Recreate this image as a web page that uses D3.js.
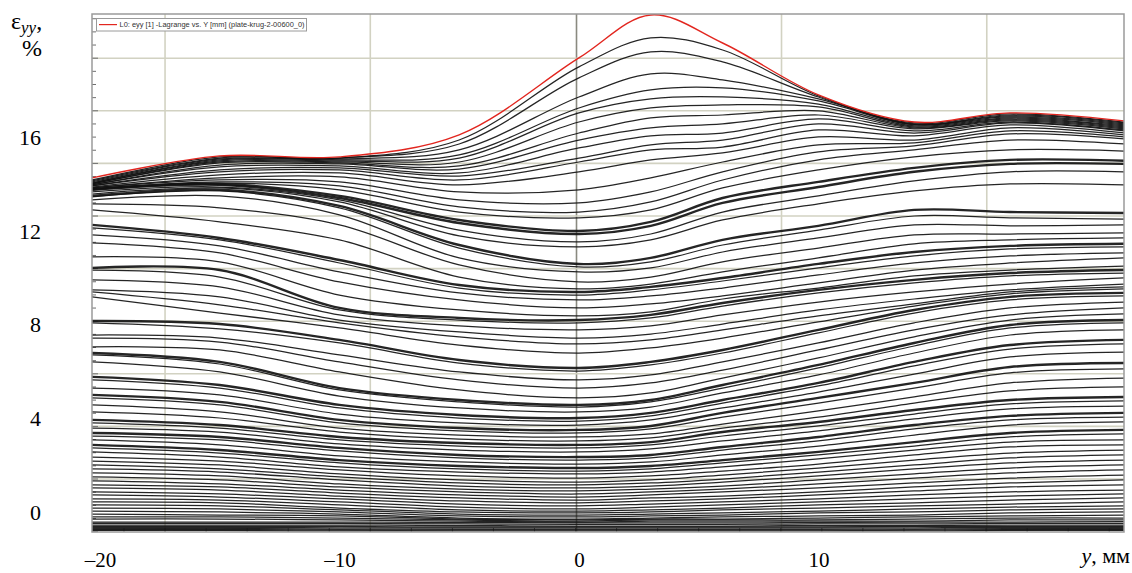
<!DOCTYPE html>
<html>
<head>
<meta charset="utf-8">
<script src="https://cdn.jsdelivr.net/npm/d3@7"></script>
<style>
  html, body { margin: 0; padding: 0; background: #ffffff; }
  svg { display: block; }
</style>
</head>
<body>
<svg id="chart" width="1132" height="573"></svg>
<script>
// Stations along the specimen axis Y, mm
const yStations = [-20.33, -15, -10, -5, 0, 3, 6, 10, 14, 18, 22.76];

// Strain eyy (%) of every recorded frame at each station.
// Index 0 is the final frame (L0), later indices are earlier frames.
const eyyAtM20 = [14.29, 14.20, 14.16, 14.12, 14.07, 14.07, 14.03, 14.03, 13.99, 13.99, 13.95, 13.95, 13.90,
  13.86, 13.86, 13.82, 13.82, 13.80, 13.78, 13.69, 13.60, 13.52, 13.48, 13.35, 13.18,
  12.92, 12.28, 12.15, 11.85, 11.51, 10.91, 10.44, 10.35, 9.93, 9.50, 9.41, 9.20,
  8.17, 8.09, 7.57, 7.44, 7.06, 6.80, 6.72, 6.42, 5.78, 5.65, 5.30, 5.01,
  4.88, 4.58, 4.28, 3.94, 3.81, 3.59, 3.38, 3.25, 3.08, 2.87, 2.74, 2.57,
  2.35, 2.18, 2.01, 1.84, 1.67, 1.50, 1.33, 1.16, 1.03, 0.86, 0.73, 0.56,
  0.43, 0.30, 0.17, 0.04, -0.09, -0.21, -0.30, -0.43, -0.49, -0.56, -0.62, -0.66, -0.71, -0.75, -0.79];
const eyyAtM15 = [15.23, 15.19, 15.14, 15.10, 15.06, 15.02, 14.97, 14.93, 14.84, 14.76, 14.63, 14.55, 14.42,
  14.29, 14.20, 14.12, 14.07, 14.03, 13.99, 13.90, 13.86, 13.78, 13.73, 13.52, 13.01,
  12.41, 11.72, 11.64, 11.38, 11.08, 10.70, 10.35, 10.05, 9.63, 9.20, 8.86, 8.51,
  8.04, 7.83, 7.44, 7.27, 6.93, 6.42, 6.33, 5.99, 5.43, 5.30, 5.01, 4.71,
  4.58, 4.28, 4.02, 3.72, 3.59, 3.42, 3.21, 3.08, 2.87, 2.65, 2.52, 2.35,
  2.18, 2.01, 1.84, 1.71, 1.54, 1.37, 1.20, 1.07, 0.94, 0.77, 0.64, 0.51,
  0.39, 0.26, 0.13, 0.00, -0.13, -0.21, -0.30, -0.43, -0.49, -0.56, -0.62, -0.66, -0.71, -0.75, -0.79];
const eyyAtM10 = [15.19, 15.14, 15.14, 15.10, 15.06, 15.02, 14.97, 14.93, 14.89, 14.80, 14.72, 14.63, 14.50,
  14.33, 14.12, 13.95, 13.78, 13.52, 13.43, 13.35, 13.26, 13.09, 13.01, 12.71, 12.28,
  11.64, 10.78, 10.65, 10.27, 9.84, 9.28, 8.73, 8.64, 8.43, 8.21, 8.09, 7.87,
  7.36, 7.23, 6.72, 6.42, 5.99, 5.30, 5.22, 4.96, 4.58, 4.45, 4.19, 3.94,
  3.81, 3.59, 3.42, 3.21, 3.08, 2.91, 2.74, 2.61, 2.40, 2.22, 2.10, 1.93,
  1.80, 1.63, 1.50, 1.37, 1.20, 1.07, 0.94, 0.81, 0.68, 0.56, 0.43, 0.30,
  0.17, 0.09, 0.00, -0.09, -0.17, -0.26, -0.34, -0.43, -0.49, -0.56, -0.62, -0.68, -0.73, -0.77, -0.81];
const eyyAtM5 = [16.13, 15.91, 15.74, 15.49, 15.27, 15.14, 14.97, 14.80, 14.67, 14.50, 14.37, 14.20, 13.99,
  13.69, 13.35, 13.05, 12.83, 12.49, 12.36, 12.06, 11.81, 11.42, 11.29, 10.87, 10.57,
  10.05, 9.71, 9.58, 9.37, 9.07, 8.64, 8.30, 8.21, 7.96, 7.70, 7.49, 7.14,
  6.50, 6.37, 5.99, 5.65, 5.22, 4.79, 4.71, 4.45, 4.15, 4.02, 3.81, 3.59,
  3.47, 3.29, 3.12, 2.95, 2.82, 2.65, 2.44, 2.31, 2.14, 1.97, 1.84, 1.71,
  1.54, 1.37, 1.24, 1.11, 0.98, 0.86, 0.73, 0.60, 0.47, 0.34, 0.21, 0.09,
  0.00, -0.09, -0.17, -0.26, -0.30, -0.34, -0.39, -0.45, -0.51, -0.58, -0.64, -0.68, -0.73, -0.77, -0.81];
const eyyAt0 = [19.42, 19.04, 18.57, 17.75, 17.28, 17.07, 16.68, 16.21, 15.91, 15.57, 15.14, 14.97, 14.55,
  13.78, 13.22, 12.83, 12.58, 12.02, 11.89, 11.55, 11.34, 10.61, 10.48, 10.27, 9.84,
  9.54, 9.41, 9.28, 9.07, 8.73, 8.39, 8.21, 8.09, 7.79, 7.44, 7.19, 6.80,
  6.16, 6.03, 5.65, 5.30, 4.88, 4.58, 4.49, 4.28, 4.02, 3.89, 3.72, 3.51,
  3.38, 3.21, 3.04, 2.87, 2.74, 2.57, 2.35, 2.22, 2.05, 1.88, 1.75, 1.63,
  1.45, 1.28, 1.16, 1.03, 0.90, 0.77, 0.64, 0.51, 0.39, 0.26, 0.13, 0.04,
  -0.04, -0.13, -0.21, -0.30, -0.34, -0.39, -0.43, -0.47, -0.53, -0.60, -0.64, -0.68, -0.73, -0.77, -0.81];
const eyyAt3 = [21.26, 20.28, 19.68, 18.74, 18.05, 17.67, 17.28, 16.86, 16.43, 16.09, 15.70, 15.49, 15.06,
  14.29, 13.69, 13.26, 12.92, 12.41, 12.24, 11.89, 11.64, 10.87, 10.70, 10.44, 10.05,
  9.75, 9.63, 9.50, 9.24, 8.90, 8.56, 8.43, 8.30, 7.96, 7.61, 7.36, 7.02,
  6.42, 6.29, 5.86, 5.52, 5.09, 4.79, 4.71, 4.49, 4.24, 4.11, 3.94, 3.68,
  3.55, 3.34, 3.17, 2.99, 2.87, 2.70, 2.44, 2.31, 2.14, 1.97, 1.84, 1.71,
  1.54, 1.37, 1.24, 1.11, 0.98, 0.86, 0.73, 0.60, 0.47, 0.34, 0.21, 0.09,
  0.00, -0.09, -0.17, -0.26, -0.30, -0.34, -0.39, -0.47, -0.53, -0.60, -0.64, -0.68, -0.73, -0.77, -0.81];
const eyyAt6 = [20.06, 19.76, 19.25, 18.48, 18.14, 17.75, 17.41, 16.98, 16.60, 16.21, 15.91, 15.61, 15.36,
  14.97, 14.55, 14.20, 13.86, 13.43, 13.22, 12.83, 12.49, 11.64, 11.42, 11.12, 10.70,
  10.27, 10.01, 9.88, 9.58, 9.24, 9.11, 8.94, 8.81, 8.43, 8.04, 7.79, 7.44,
  6.93, 6.80, 6.42, 6.07, 5.73, 5.43, 5.30, 5.09, 4.79, 4.66, 4.45, 4.24,
  4.06, 3.76, 3.59, 3.42, 3.25, 3.04, 2.78, 2.65, 2.44, 2.22, 2.10, 1.93,
  1.75, 1.58, 1.41, 1.28, 1.11, 0.98, 0.86, 0.68, 0.56, 0.43, 0.30, 0.17,
  0.09, -0.04, -0.13, -0.21, -0.30, -0.34, -0.39, -0.47, -0.53, -0.60, -0.64, -0.68, -0.73, -0.77, -0.81];
const eyyAt10 = [17.84, 17.80, 17.75, 17.67, 17.58, 17.45, 17.33, 17.16, 16.98, 16.81, 16.60, 16.34, 16.04,
  15.70, 15.40, 15.06, 14.63, 14.12, 13.90, 13.52, 13.18, 12.24, 12.06, 11.72, 11.29,
  10.87, 10.61, 10.44, 10.14, 9.80, 9.58, 9.50, 9.37, 8.98, 8.64, 8.39, 8.13,
  7.79, 7.66, 7.23, 6.93, 6.59, 6.29, 6.16, 5.86, 5.52, 5.39, 5.13, 4.88,
  4.66, 4.32, 4.06, 3.85, 3.68, 3.47, 3.21, 3.04, 2.82, 2.57, 2.44, 2.27,
  2.05, 1.88, 1.71, 1.54, 1.37, 1.20, 1.03, 0.86, 0.73, 0.56, 0.43, 0.30,
  0.17, 0.04, -0.04, -0.17, -0.26, -0.34, -0.39, -0.45, -0.51, -0.58, -0.64, -0.68, -0.73, -0.77, -0.81];
const eyyAt14 = [16.68, 16.64, 16.60, 16.58, 16.56, 16.51, 16.47, 16.43, 16.39, 16.30, 16.21, 16.09, 15.91,
  15.79, 15.66, 15.49, 15.19, 14.72, 14.55, 14.16, 13.73, 12.92, 12.66, 12.28, 11.85,
  11.47, 11.12, 10.95, 10.65, 10.35, 10.10, 9.93, 9.80, 9.41, 9.11, 8.90, 8.81,
  8.64, 8.51, 8.09, 7.79, 7.49, 7.23, 7.10, 6.80, 6.42, 6.25, 5.90, 5.52,
  5.30, 4.92, 4.66, 4.36, 4.19, 3.98, 3.72, 3.55, 3.29, 2.99, 2.82, 2.65,
  2.44, 2.22, 2.01, 1.84, 1.63, 1.45, 1.24, 1.07, 0.90, 0.73, 0.56, 0.39,
  0.26, 0.13, 0.00, -0.13, -0.21, -0.30, -0.39, -0.43, -0.51, -0.58, -0.62, -0.68, -0.73, -0.77, -0.81];
const eyyAt18 = [17.07, 17.03, 16.98, 16.94, 16.90, 16.86, 16.81, 16.77, 16.73, 16.68, 16.64, 16.56, 16.43,
  16.30, 16.17, 15.91, 15.49, 15.06, 14.89, 14.55, 14.03, 12.83, 12.58, 12.24, 11.89,
  11.64, 11.38, 11.25, 10.95, 10.65, 10.35, 10.22, 10.10, 9.75, 9.50, 9.41, 9.33,
  9.20, 9.07, 8.73, 8.43, 8.21, 8.00, 7.87, 7.57, 7.14, 6.97, 6.63, 6.20,
  5.95, 5.52, 5.18, 4.79, 4.62, 4.41, 4.11, 3.94, 3.72, 3.38, 3.21, 2.99,
  2.78, 2.52, 2.31, 2.10, 1.88, 1.67, 1.45, 1.24, 1.07, 0.86, 0.68, 0.51,
  0.34, 0.21, 0.09, -0.04, -0.17, -0.26, -0.34, -0.43, -0.49, -0.56, -0.62, -0.66, -0.71, -0.75, -0.79];
const eyyAt22 = [16.73, 16.68, 16.64, 16.60, 16.56, 16.51, 16.47, 16.43, 16.39, 16.34, 16.30, 16.21, 16.13,
  16.04, 15.96, 15.74, 15.44, 15.02, 14.89, 14.55, 13.99, 12.79, 12.53, 12.28, 11.94,
  11.72, 11.47, 11.34, 11.08, 10.87, 10.52, 10.35, 10.22, 10.01, 9.75, 9.63, 9.54,
  9.37, 9.24, 8.98, 8.73, 8.47, 8.21, 8.09, 7.79, 7.36, 7.19, 6.84, 6.37,
  6.12, 5.73, 5.35, 4.92, 4.75, 4.53, 4.24, 4.06, 3.85, 3.51, 3.34, 3.08,
  2.87, 2.65, 2.44, 2.22, 2.01, 1.80, 1.58, 1.37, 1.16, 0.94, 0.77, 0.60,
  0.43, 0.26, 0.13, 0.00, -0.13, -0.26, -0.34, -0.41, -0.49, -0.56, -0.62, -0.66, -0.71, -0.75, -0.79];

// Frames drawn with a heavier stroke (bunched frame groups)
const heavyFrames = [17, 18, 21, 26, 31, 37, 42, 45, 48, 52, 55, 58];

// Axis ticks and the software grid
const xTicks = [-20, -10, 0, 10];
const yTicks = [0, 4, 8, 12, 16];
const xGrid = [-17.28, -8.71, -0.10, 8.46, 17.03];
const yGrid = [1.41, 3.66, 5.91, 8.16, 10.41, 12.66, 14.91, 17.16, 19.41];

const legendText = "L0: eyy [1] -Lagrange vs. Y [mm] (plate-krug-2-00600_0)";

// ---------------------------------------------------------------
const svg = d3.select("#chart");
const plot = { left: 92, right: 1124, top: 14, bottom: 532 };

const x = d3.scaleLinear().domain([-20.33, 22.76]).range([plot.left, plot.right]);
const y = d3.scaleLinear().domain([-0.856, 21.30]).range([plot.bottom, plot.top]);

const stationValues = [eyyAtM20, eyyAtM15, eyyAtM10, eyyAtM5, eyyAt0, eyyAt3, eyyAt6,
                       eyyAt10, eyyAt14, eyyAt18, eyyAt22];
const nFrames = d3.min(stationValues, a => a.length);
const frames = d3.range(nFrames).map(f => ({
  index: f,
  points: yStations.map((s, i) => [s, stationValues[i][f]])
}));

svg.append("defs").append("clipPath").attr("id", "plotClip")
  .append("rect")
  .attr("x", plot.left).attr("y", plot.top)
  .attr("width", plot.right - plot.left).attr("height", plot.bottom - plot.top);

// plot background
svg.append("rect")
  .attr("x", plot.left).attr("y", plot.top)
  .attr("width", plot.right - plot.left).attr("height", plot.bottom - plot.top)
  .attr("fill", "#ffffff");

// grid
const grid = svg.append("g").attr("clip-path", "url(#plotClip)");
grid.selectAll("line.gx").data(xGrid).join("line")
  .attr("x1", d => x(d)).attr("x2", d => x(d))
  .attr("y1", plot.top).attr("y2", plot.bottom)
  .attr("stroke", (d, i) => i === 2 ? "#8a8a80" : "#d2d2c2")
  .attr("stroke-width", 1.6);
grid.selectAll("line.gy").data(yGrid).join("line")
  .attr("x1", plot.left).attr("x2", plot.right)
  .attr("y1", d => y(d)).attr("y2", d => y(d))
  .attr("stroke", "#d2d2c2")
  .attr("stroke-width", 1.6);

// small tick marks on the inner left and bottom edges
const yStep = (yGrid[1] - yGrid[0]) / 4;
const leftTicks = d3.range(yGrid[0] - 4 * yStep, y.domain()[1], yStep)
  .filter(v => v > y.domain()[0] && v < y.domain()[1]);
svg.append("g").selectAll("line").data(leftTicks).join("line")
  .attr("x1", plot.left).attr("x2", d => plot.left + (Math.round((d - yGrid[0]) / yStep) % 4 === 0 ? 6 : 4))
  .attr("y1", d => y(d)).attr("y2", d => y(d))
  .attr("stroke", "#6f6f6f").attr("stroke-width", 1);
const xStep = (xGrid[1] - xGrid[0]) / 5;
const bottomTicks = d3.range(xGrid[0] - 5 * xStep, x.domain()[1], xStep)
  .filter(v => v > x.domain()[0] && v < x.domain()[1]);
svg.append("g").selectAll("line").data(bottomTicks).join("line")
  .attr("x1", d => x(d)).attr("x2", d => x(d))
  .attr("y1", plot.bottom).attr("y2", plot.bottom - 4)
  .attr("stroke", "#6f6f6f").attr("stroke-width", 1);

// frames
const line = d3.line()
  .x(d => x(d[0]))
  .y(d => y(d[1]))
  .curve(d3.curveCatmullRom.alpha(0.5));

const curves = svg.append("g").attr("clip-path", "url(#plotClip)");
curves.selectAll("path.frame")
  .data(frames.filter(f => f.index > 0).reverse())
  .join("path")
  .attr("class", "frame")
  .attr("d", d => line(d.points))
  .attr("fill", "none")
  .attr("stroke", "#121212")
  .attr("stroke-opacity", 0.92)
  .attr("stroke-width", d => heavyFrames.includes(d.index) ? 2.4 : 1.25);

curves.append("path")
  .attr("d", line(frames[0].points))
  .attr("fill", "none")
  .attr("stroke", "#e2261f")
  .attr("stroke-width", 1.4);

// plot frame
svg.append("rect")
  .attr("x", plot.left).attr("y", plot.top)
  .attr("width", plot.right - plot.left).attr("height", plot.bottom - plot.top)
  .attr("fill", "none").attr("stroke", "#9a9a9a").attr("stroke-width", 1.5);

// legend
const lg = svg.append("g");
lg.append("rect").attr("x", 96.5).attr("y", 18.5).attr("width", 210).attr("height", 12.5)
  .attr("fill", "#ffffff").attr("stroke", "#9a9a9a").attr("stroke-width", 1);
lg.append("line").attr("x1", 99).attr("x2", 117).attr("y1", 24.6).attr("y2", 24.6)
  .attr("stroke", "#e2261f").attr("stroke-width", 1.2);
lg.append("text").attr("x", 119.5).attr("y", 27.4)
  .attr("font-family", "'Liberation Sans', Arial, sans-serif")
  .attr("font-size", 6.8).attr("fill", "#333")
  .attr("textLength", 185).attr("lengthAdjust", "spacingAndGlyphs")
  .text(legendText);

// axis labels (serif, outside the plot)
const serif = "'Liberation Serif', 'Times New Roman', serif";
const xAxis = d3.axisBottom(x).tickValues(xTicks).tickSize(0).tickPadding(0)
  .tickFormat(d => (d < 0 ? "\u2013" + Math.abs(d) : String(d)));
const gx = svg.append("g").attr("transform", "translate(0,567)").call(xAxis);
gx.select(".domain").remove();
gx.selectAll("text").attr("font-family", serif).attr("font-size", 21).attr("fill", "#000")
  .attr("dy", 0).attr("y", 0);

const yAxis = d3.axisLeft(y).tickValues(yTicks).tickSize(0).tickPadding(0)
  .tickFormat(d => String(d));
const gy = svg.append("g").attr("transform", "translate(41,0)").call(yAxis);
gy.select(".domain").remove();
gy.selectAll("text").attr("font-family", serif).attr("font-size", 22).attr("fill", "#000");

// axis titles
const yt = svg.append("text").attr("x", 11).attr("y", 29)
  .attr("font-family", serif).attr("font-size", 24).attr("fill", "#000");
yt.append("tspan").text("\u03b5");
yt.append("tspan").attr("font-style", "italic").attr("font-size", 17).attr("dy", 4).text("yy");
yt.append("tspan").attr("dy", -4).text(",");
svg.append("text").attr("x", 22).attr("y", 56)
  .attr("font-family", serif).attr("font-size", 24).attr("fill", "#000").text("%");

const xt = svg.append("text").attr("x", 1130).attr("y", 563).attr("text-anchor", "end")
  .attr("font-family", serif).attr("font-size", 22).attr("fill", "#000");
xt.append("tspan").attr("font-style", "italic").text("y");
xt.append("tspan").text(", \u043c\u043c");
</script>
</body>
</html>
